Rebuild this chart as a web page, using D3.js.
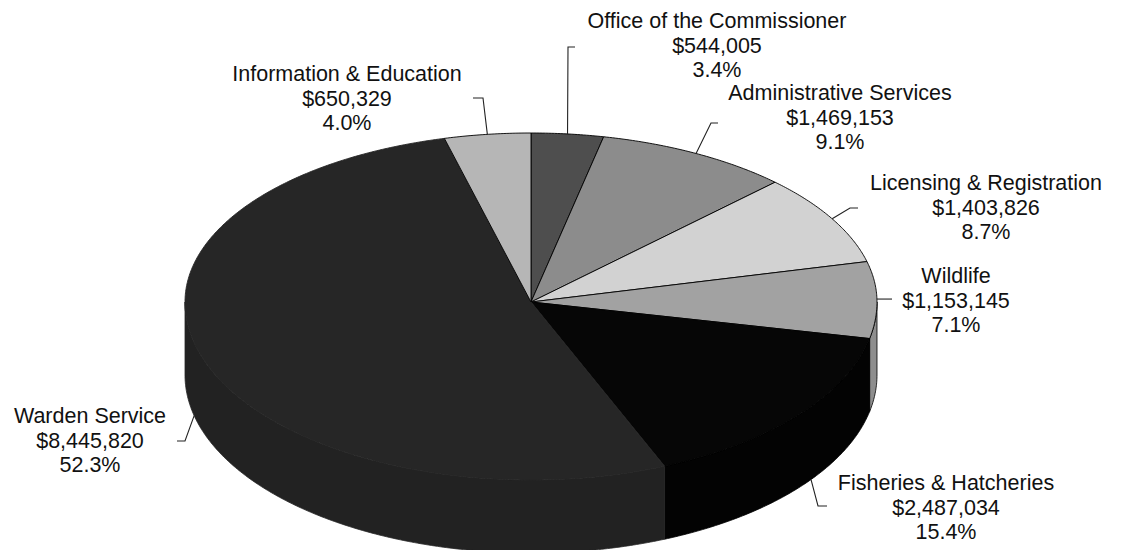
<!DOCTYPE html>
<html>
<head>
<meta charset="utf-8">
<script src="https://cdn.jsdelivr.net/npm/d3@7"></script>
<style>
  html, body { margin: 0; padding: 0; background: #fff; }
  svg { display: block; }
</style>
</head>
<body>
<svg id="chart" width="1121" height="550"></svg>
<script>
// ---- data ----
const categories = [
  "Office of the Commissioner",
  "Administrative Services",
  "Licensing & Registration",
  "Wildlife",
  "Fisheries & Hatcheries",
  "Warden Service",
  "Information & Education"
];
const amounts = [544005, 1469153, 1403826, 1153145, 2487034, 8445820, 650329];
const amountLabels = ["$544,005", "$1,469,153", "$1,403,826", "$1,153,145", "$2,487,034", "$8,445,820", "$650,329"];
const percentLabels = ["3.4%", "9.1%", "8.7%", "7.1%", "15.4%", "52.3%", "4.0%"];

// ---- styles / layout ----
const topColors  = ["#4e4e4e", "#8c8c8c", "#d2d2d2", "#a2a2a2", "#060606", "#262626", "#b6b6b6"];
const sideColors = ["#444444", "#7c7c7c", "#bbbbbb", "#8e8e8e", "#030303", "#222222", "#a0a0a0"];
const edgeColors = ["#000", "#000", "#000", "#000", "#000", "#262626", "#000"];

const W = 1121, H = 550;
const cx = 531, cy = 302, rx = 346, ryBack = 169, ryFront = 178, depth = 73;

// label layout: text centre x, first baseline y, leader tail + knee, anchor angle offset (deg) and depth fraction
const labelLayout = [
  { tx: 717, ty: 28,  tail: [575, 47],  knee: [568, 47],  dA: 0,    z: 0 },
  { tx: 840, ty: 100, tail: [718, 123], knee: [711, 123], dA: 0,    z: 0 },
  { tx: 986, ty: 190, tail: [858, 208], knee: [850, 208], dA: 0,    z: 0 },
  { tx: 956, ty: 283, tail: [892, null], knee: null,      dA: 0,    z: 0 },
  { tx: 946, ty: 490, tail: [827, 506], knee: [818, 506], dA: -3.6, z: 1 },
  { tx: 90,  ty: 423, tail: [177, 441], knee: [185, 441], dA: 5.4,  z: 1 },
  { tx: 347, ty: 81,  tail: [473, 98],  knee: [483, 98],  dA: 0,    z: 0 }
];
const lineGap = 24.7;

const svg = d3.select("#chart");

const pie = d3.pie().sort(null).value(d => d).startAngle(0).endAngle(2 * Math.PI);
const arcs = pie(amounts);

function pt(theta, z = 0) {
  const s = Math.sin(theta), c = Math.cos(theta);
  const ry = c >= 0 ? ryBack : ryFront;
  return [cx + rx * s, cy - ry * c + z];
}
function arcPoints(a0, a1, z = 0) {
  const n = Math.max(2, Math.ceil(Math.abs(a1 - a0) / (Math.PI / 360)));
  const pts = [];
  for (let i = 0; i <= n; i++) pts.push(pt(a0 + (a1 - a0) * i / n, z));
  return pts;
}
const line = d3.line();

// side walls (front half only: angles between PI/2 and 3PI/2)
const sideG = svg.append("g");
arcs.forEach((d, i) => {
  const s = Math.max(d.startAngle, Math.PI / 2);
  const e = Math.min(d.endAngle, 3 * Math.PI / 2);
  if (e <= s) return;
  const pts = arcPoints(s, e, 0).concat(arcPoints(e, s, depth));
  sideG.append("path")
    .attr("d", line(pts) + "Z")
    .attr("fill", sideColors[i])
    .attr("stroke", edgeColors[i])
    .attr("stroke-width", 0.8)
    .attr("stroke-linejoin", "round");
});

// top faces
const topG = svg.append("g");
arcs.forEach((d, i) => {
  const pts = [[cx, cy]].concat(arcPoints(d.startAngle, d.endAngle, 0));
  topG.append("path")
    .attr("d", line(pts) + "Z")
    .attr("fill", topColors[i])
    .attr("stroke", edgeColors[i])
    .attr("stroke-width", 0.9)
    .attr("stroke-linejoin", "round");
});

// labels + leaders
const labG = svg.append("g")
  .attr("font-family", "'Liberation Sans', Arial, Helvetica, sans-serif")
  .attr("font-size", "21.5px")
  .attr("fill", "#111");

arcs.forEach((d, i) => {
  const L = labelLayout[i];
  const mid = (d.startAngle + d.endAngle) / 2 + L.dA * Math.PI / 180;
  const anchor = pt(mid, L.z * depth);
  const tail = [L.tail[0], L.tail[1] == null ? anchor[1] : L.tail[1]];
  const pts = L.knee ? [tail, L.knee, anchor] : [tail, anchor];
  labG.append("path")
    .attr("d", line(pts))
    .attr("fill", "none")
    .attr("stroke", "#222")
    .attr("stroke-width", 1.1);

  const t = labG.append("text").attr("text-anchor", "middle");
  [categories[i], amountLabels[i], percentLabels[i]].forEach((s, k) => {
    t.append("tspan").attr("x", L.tx).attr("y", L.ty + k * lineGap).text(s);
  });
});
</script>
</body>
</html>
